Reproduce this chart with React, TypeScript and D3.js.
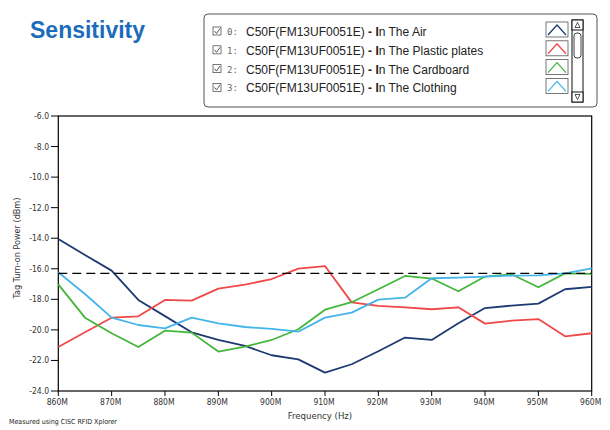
import React from "react";
import * as d3 from "d3";

const freqs = [860, 865, 870, 875, 880, 885, 890, 895, 900, 905, 910, 915, 920, 925, 930, 935, 940, 945, 950, 955, 960];
const airValues = [-14.05, -15.1, -16.12, -18.04, -19.1, -20.16, -20.66, -21.05, -21.66, -21.93, -22.8, -22.25, -21.4, -20.5, -20.66, -19.57, -18.57, -18.41, -18.28, -17.34, -17.19];
const plasticValues = [-21.12, -20.16, -19.2, -19.11, -18.04, -18.08, -17.3, -17.04, -16.67, -15.99, -15.82, -18.2, -18.43, -18.52, -18.65, -18.52, -19.59, -19.4, -19.29, -20.42, -20.22];
const cardboardValues = [-17.02, -19.2, -20.22, -21.12, -20.05, -20.18, -21.42, -21.1, -20.66, -19.96, -18.68, -18.19, -17.34, -16.47, -16.64, -17.47, -16.51, -16.36, -17.21, -16.3, -16.33];
const clothingValues = [-16.23, -17.65, -19.2, -19.68, -19.9, -19.2, -19.57, -19.81, -19.94, -20.12, -19.2, -18.87, -18.02, -17.89, -16.62, -16.58, -16.51, -16.45, -16.43, -16.3, -15.97];
const thresholdValue = -16.3;

const seriesNames = ["In The Air", "In The Plastic plates", "In The Cardboard", "In The Clothing"];
const seriesColors = ["#1d3b72", "#f04848", "#44b63c", "#45b4ea"];
const xTicks = [860, 870, 880, 890, 900, 910, 920, 930, 940, 950, 960];
const yTicks = [-6, -8, -10, -12, -14, -16, -18, -20, -22, -24];

const allSeries = [airValues, plasticValues, cardboardValues, clothingValues];

export default function App() {
  const x = d3.scaleLinear().domain([860, 960]).range([58.3, 591.7]);
  const y = d3.scaleLinear().domain([-24, -6]).range([391, 116]);
  const line = d3
    .line<number>()
    .x((_, i) => x(freqs[i]))
    .y((d) => y(d));
  const tickFont = "'DejaVu Sans Condensed', 'DejaVu Sans', Verdana, sans-serif";
  const legendX = 204;
  const legendY = 14;
  const rowH = 18.8;
  return (
    <svg width={610} height={430} style={{ position: "absolute", left: 0, top: 0, background: "#fff" }}>
      <text x={30} y={38} fontFamily="'Liberation Sans', Arial, sans-serif" fontWeight="bold" fontSize={23} fill="#1c6cbc">
        Sensitivity
      </text>

      {/* legend */}
      <rect x={legendX} y={legendY} width={393} height={93} rx={4} fill="#fff" stroke="#555" strokeWidth={1} />
      {seriesNames.map((name, i) => {
        const cy = legendY + 19 + i * rowH;
        return (
          <g key={name}>
            <rect x={213} y={cy - 6} width={8} height={8} fill="#fff" stroke="#555" strokeWidth={0.8} />
            <path d={`M214.5,${cy - 2} L216.5,${cy + 0.5} L220,${cy - 4.5}`} fill="none" stroke="#444" strokeWidth={0.9} />
            <text x={227} y={cy + 2} fontFamily="'DejaVu Sans Mono', monospace" fontSize={9} fill="#666">
              {i}:
            </text>
            <text x={246} y={cy + 3} fontFamily="'Liberation Sans', Arial, sans-serif" fontSize={12} fill="#222">
              C50F(FM13UF0051E) <tspan fontWeight="bold">-</tspan> <tspan fontWeight="bold">I</tspan>
              {name.slice(1)}
            </text>
            <rect x={546} y={cy - 11} width={22} height={15} fill="#fff" stroke="#555" strokeWidth={0.8} />
            <path d={`M548,${cy + 2} L557,${cy - 8} L566,${cy + 2}`} fill="none" stroke={seriesColors[i]} strokeWidth={1.3} />
          </g>
        );
      })}
      {/* scrollbar */}
      <rect x={572} y={20} width={11} height={82} fill="#fff" stroke="#111" strokeWidth={1} />
      <rect x={572} y={20} width={11} height={10} fill="#fff" stroke="#111" strokeWidth={1} />
      <path d="M575,27.5 L577.5,22.5 L580,27.5 Z" fill="#fff" stroke="#111" strokeWidth={0.7} />
      <rect x={572} y={92} width={11} height={10} fill="#fff" stroke="#111" strokeWidth={1} />
      <path d="M575,94.5 L577.5,99.5 L580,94.5 Z" fill="#fff" stroke="#111" strokeWidth={0.7} />
      <rect x={574} y={33} width={7} height={25} rx={3} fill="#fff" stroke="#111" strokeWidth={0.8} />

      {/* plot frame */}
      <rect x={x(860)} y={y(-6)} width={x(960) - x(860)} height={y(-24) - y(-6)} fill="none" stroke="#000" strokeWidth={1.2} />

      {/* y ticks */}
      {yTicks.map((t) => (
        <g key={t}>
          <line x1={51} x2={58.3} y1={y(t)} y2={y(t)} stroke="#000" strokeWidth={1} />
          <text x={49} y={y(t) + 3} textAnchor="end" fontFamily={tickFont} fontSize={8.5} fill="#333">
            {t.toFixed(1)}
          </text>
        </g>
      ))}
      {/* x ticks */}
      {xTicks.map((t) => (
        <g key={t}>
          <line x1={x(t)} x2={x(t)} y1={391} y2={396} stroke="#000" strokeWidth={1} />
          <text x={x(t) - 1} y={405} textAnchor="middle" fontFamily={tickFont} fontSize={8.5} fill="#333">
            {t}M
          </text>
        </g>
      ))}

      <text
        transform={`translate(20,248) rotate(-90)`}
        textAnchor="middle"
        fontFamily={tickFont}
        fontSize={9}
        fill="#333"
      >
        Tag Turn-on Power (dBm)
      </text>
      <text x={320} y={419} textAnchor="middle" fontFamily={tickFont} fontSize={9.5} fill="#333">
        Frequency (Hz)
      </text>
      <text x={9} y={424} fontFamily={tickFont} fontSize={7} fill="#222">
        Measured using CISC RFID Xplorer
      </text>

      {/* series */}
      {allSeries.map((vals, i) => (
        <path key={i} d={line(vals) || ""} fill="none" stroke={seriesColors[i]} strokeWidth={1.8} strokeLinejoin="round" />
      ))}
      <line
        x1={x(860)}
        x2={x(960)}
        y1={y(thresholdValue)}
        y2={y(thresholdValue)}
        stroke="#000"
        strokeWidth={1.2}
        strokeDasharray="9,5"
      />
    </svg>
  );
}
